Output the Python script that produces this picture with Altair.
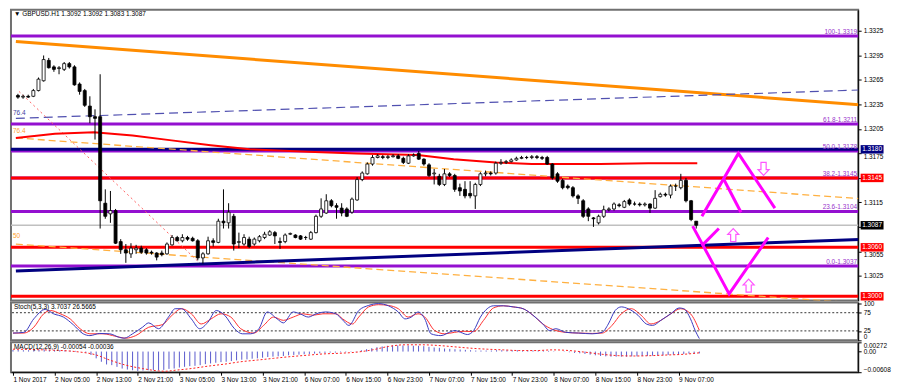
import altair as alt
import pandas as pd

# ---------------------------------------------------------------- texts
TITLE = "\u25BC GBPUSD.H1  1.3092 1.3092 1.3083 1.3087"
STOCH_TITLE = "Stoch(5,3,3) 3.7037 26.5665"
MACD_TITLE = "MACD(12,26,9) -0.00054 -0.00036"

# ---------------------------------------------------------------- candles (H1 bars, index 0 = 1 Nov 21:00)
OPEN = [1.3246, 1.3244, 1.3245, 1.3245, 1.3252, 1.3264, 1.3289, 1.3281, 1.3279, 1.3278,
        1.3285, 1.3281, 1.3260, 1.3252, 1.3233, 1.3220, 1.3220, 1.3114, 1.3101, 1.3105,
        1.3067, 1.3057, 1.3052, 1.3057, 1.3059, 1.3057, 1.3054, 1.3053, 1.3053, 1.3052,
        1.3063, 1.3072, 1.3068, 1.3072, 1.3071, 1.3068, 1.3047, 1.3052, 1.3068, 1.3066,
        1.3092, 1.3090, 1.3098, 1.3066, 1.3064, 1.3070, 1.3064, 1.3068, 1.3072, 1.3075,
        1.3078, 1.3067, 1.3067, 1.3076, 1.3075, 1.3074, 1.3072, 1.3070, 1.3078, 1.3098,
        1.3102, 1.3117, 1.3111, 1.3108, 1.3107, 1.3103, 1.3118, 1.3143, 1.3150, 1.3162,
        1.3170, 1.3171, 1.3170, 1.3171, 1.3172, 1.3169, 1.3163, 1.3172, 1.3175, 1.3168,
        1.3161, 1.3150, 1.3147, 1.3137, 1.3150, 1.3148, 1.3133, 1.3131, 1.3126, 1.3123,
        1.3137, 1.3150, 1.3151, 1.3151, 1.3163, 1.3164, 1.3165, 1.3167, 1.3169, 1.3170,
        1.3170, 1.3171, 1.3170, 1.3170, 1.3162, 1.3150, 1.3142, 1.3135, 1.3133, 1.3123,
        1.3117, 1.3107, 1.3096, 1.3090, 1.3098, 1.3106, 1.3107, 1.3112, 1.3109, 1.3118,
        1.3113, 1.3113, 1.3112, 1.3113, 1.3108, 1.3122, 1.3125, 1.3124, 1.3135, 1.3133,
        1.3142, 1.3117, 1.3092]
HIGH = [1.3248, 1.3247, 1.3247, 1.3254, 1.3268, 1.3295, 1.3292, 1.3283, 1.3282, 1.3287,
        1.3287, 1.3283, 1.3262, 1.3254, 1.3245, 1.3229, 1.3272, 1.3131, 1.3129, 1.3107,
        1.3070, 1.3064, 1.3065, 1.3063, 1.3062, 1.3059, 1.3056, 1.3054, 1.3056, 1.3066,
        1.3075, 1.3074, 1.3076, 1.3074, 1.3073, 1.3070, 1.3054, 1.3073, 1.3071, 1.3095,
        1.3131, 1.3114, 1.3101, 1.3078, 1.3076, 1.3073, 1.3072, 1.3075, 1.3079, 1.3081,
        1.3080, 1.3072, 1.3077, 1.3078, 1.3076, 1.3075, 1.3074, 1.3080, 1.3100, 1.3120,
        1.3125, 1.3119, 1.3114, 1.3114, 1.3109, 1.3121, 1.3146, 1.3153, 1.3164, 1.3173,
        1.3174, 1.3173, 1.3173, 1.3174, 1.3174, 1.3171, 1.3174, 1.3175, 1.3178, 1.3169,
        1.3163, 1.3156, 1.3150, 1.3156, 1.3152, 1.3150, 1.3138, 1.3141, 1.3141, 1.3139,
        1.3152, 1.3154, 1.3153, 1.3165, 1.3168, 1.3167, 1.3169, 1.3171, 1.3172, 1.3172,
        1.3173, 1.3173, 1.3172, 1.3172, 1.3163, 1.3152, 1.3144, 1.3137, 1.3135, 1.3125,
        1.3119, 1.3109, 1.3097, 1.3100, 1.3111, 1.3109, 1.3115, 1.3114, 1.3118, 1.3120,
        1.3116, 1.3115, 1.3115, 1.3114, 1.3130, 1.3127, 1.3127, 1.3137, 1.3138, 1.3150,
        1.3145, 1.3118, 1.3092]
LOW = [1.3242, 1.3242, 1.3243, 1.3244, 1.3251, 1.3263, 1.3279, 1.3275, 1.3272, 1.3276,
       1.3279, 1.3258, 1.3247, 1.3232, 1.3212, 1.3192, 1.3083, 1.3095, 1.3090, 1.3064,
       1.3052, 1.3041, 1.3047, 1.3052, 1.3052, 1.3051, 1.3051, 1.3044, 1.3049, 1.3051,
       1.3062, 1.3067, 1.3066, 1.3068, 1.3067, 1.3044, 1.3040, 1.3051, 1.3061, 1.3065,
       1.3083, 1.3083, 1.3056, 1.3059, 1.3062, 1.3059, 1.3062, 1.3066, 1.3070, 1.3074,
       1.3064, 1.3058, 1.3065, 1.3075, 1.3071, 1.3069, 1.3069, 1.3069, 1.3077, 1.3096,
       1.3101, 1.3109, 1.3095, 1.3098, 1.3097, 1.3101, 1.3117, 1.3141, 1.3149, 1.3160,
       1.3169, 1.3168, 1.3168, 1.3170, 1.3168, 1.3162, 1.3162, 1.3171, 1.3167, 1.3160,
       1.3146, 1.3137, 1.3135, 1.3135, 1.3146, 1.3128, 1.3123, 1.3120, 1.3120, 1.3107,
       1.3135, 1.3147, 1.3148, 1.3149, 1.3161, 1.3162, 1.3164, 1.3166, 1.3168, 1.3168,
       1.3168, 1.3168, 1.3167, 1.3161, 1.3143, 1.3139, 1.3131, 1.3131, 1.3121, 1.3113,
       1.3096, 1.3092, 1.3085, 1.3088, 1.3096, 1.3104, 1.3105, 1.3109, 1.3108, 1.3111,
       1.3111, 1.3110, 1.3110, 1.3102, 1.3107, 1.3121, 1.3122, 1.3120, 1.3129, 1.3131,
       1.3115, 1.3092, 1.3083]
CLOSE = [1.3244, 1.3245, 1.3244, 1.3252, 1.3266, 1.3290, 1.3280, 1.3278, 1.3280, 1.3285,
         1.3281, 1.3259, 1.3251, 1.3234, 1.3220, 1.3218, 1.3117, 1.3098, 1.3105, 1.3065,
         1.3057, 1.3053, 1.3059, 1.3059, 1.3054, 1.3053, 1.3053, 1.3048, 1.3051, 1.3064,
         1.3072, 1.3068, 1.3072, 1.3070, 1.3068, 1.3047, 1.3052, 1.3068, 1.3066, 1.3092,
         1.3090, 1.3103, 1.3064, 1.3067, 1.3072, 1.3061, 1.3070, 1.3073, 1.3076, 1.3079,
         1.3074, 1.3066, 1.3075, 1.3077, 1.3072, 1.3070, 1.3072, 1.3078, 1.3098, 1.3107,
         1.3117, 1.3111, 1.3109, 1.3102, 1.3098, 1.3119, 1.3143, 1.3151, 1.3162, 1.3170,
         1.3172, 1.3170, 1.3171, 1.3172, 1.3169, 1.3164, 1.3172, 1.3173, 1.3168, 1.3162,
         1.3148, 1.3151, 1.3137, 1.3150, 1.3148, 1.3131, 1.3129, 1.3123, 1.3123, 1.3137,
         1.3150, 1.3151, 1.3150, 1.3163, 1.3164, 1.3165, 1.3167, 1.3169, 1.3170, 1.3170,
         1.3171, 1.3170, 1.3169, 1.3162, 1.3145, 1.3141, 1.3133, 1.3133, 1.3123, 1.3120,
         1.3098, 1.3098, 1.3095, 1.3098, 1.3106, 1.3107, 1.3113, 1.3111, 1.3116, 1.3113,
         1.3113, 1.3112, 1.3113, 1.3108, 1.3120, 1.3125, 1.3124, 1.3135, 1.3135, 1.3142,
         1.3117, 1.3094, 1.3087]

# ---------------------------------------------------------------- time axis
TIME_TICKS = [0, 8, 16, 24, 32, 40, 48, 56, 64, 72, 80, 88, 96, 104, 112, 120, 128]
TIME_LABELS = ["1 Nov 2017", "2 Nov 05:00", "2 Nov 13:00", "2 Nov 21:00", "3 Nov 05:00",
               "3 Nov 13:00", "3 Nov 21:00", "6 Nov 07:00", "6 Nov 15:00", "6 Nov 23:00",
               "7 Nov 07:00", "7 Nov 15:00", "7 Nov 23:00", "8 Nov 07:00", "8 Nov 15:00",
               "8 Nov 23:00", "9 Nov 07:00"]

# ---------------------------------------------------------------- price levels
PRICE_TICKS = [1.3025, 1.3055, 1.3085, 1.3115, 1.3145, 1.3175, 1.3205, 1.3235, 1.3265,
               1.3295, 1.3325]
HIDDEN_TICK_LABELS = [1.3085, 1.3145]          # fully covered by price tags
LOWERED_TICK_LABELS = [1.3055, 1.3175]         # peek out just under a price tag
FIB_PRICES = [1.3319, 1.3211, 1.3178, 1.3145, 1.3104, 1.3037]
FIB_TEXT = ["100-1.3319", "61.8-1.3211", "50.0-1.3178", "38.2-1.3145", "23.6-1.3104",
            "0.0-1.3037"]
RED_LEVELS = [1.3145, 1.3060, 1.3000]
NAVY_LEVELS = [1.3180]
LAST_PRICE = [1.3087]
TAG_PRICES = [1.3180, 1.3145, 1.3087, 1.3060, 1.3000]
TAG_COLORS = ["#000080", "#FF0000", "#000000", "#FF0000", "#FF0000"]

# ---------------------------------------------------------------- drawn objects (bar, price)
ORANGE_BAR = [-0.4, 165.1]
ORANGE_PRICE = [1.3312, 1.3234]
NAVY_DASH_BAR = [-0.4, 165.1]
NAVY_DASH_PRICE = [1.3218, 1.3253]
NAVY_TREND_BAR = [-0.4, 165.1]
NAVY_TREND_PRICE = [1.3031, 1.3070]
FAN_ID = ["a", "a", "b", "b"]
FAN_BAR = [-0.4, 165.1, -0.4, 165.1]
FAN_PRICE = [1.3194, 1.3119, 1.3064, 1.2991]
RED_DOT_BAR = [0.2, 36.0]
RED_DOT_PRICE = [1.3251, 1.3037]
MA_BAR = [-0.4, 7.2, 14.8, 22.3, 29.9, 37.5, 45.1, 56.4, 65.9, 77.8, 84.8, 93.0, 100.0,
          113.3, 122.7, 132.2]
MA_PRICE = [1.3194, 1.3199, 1.3201, 1.3197, 1.3191, 1.3185, 1.3180, 1.3177, 1.3175, 1.3173,
            1.3168, 1.3164, 1.3162, 1.3162, 1.3163, 1.3163]
ZIG_ID = ["u1", "u1", "u1", "u2", "u2", "d1", "d1", "d1", "d2", "d2"]
ZIG_BAR = [133.1, 140.2, 147.3, 137.3, 140.7, 131.3, 138.4, 146.0, 133.1, 136.4]
ZIG_PRICE = [1.3098, 1.3175, 1.3108, 1.3144, 1.3103, 1.3086, 1.3003, 1.3072, 1.3062, 1.3083]
ARROW_BAR = [145.1, 139.2, 142.2]
ARROW_PRICE = [1.3156, 1.3075, 1.3013]
ARROW_DIR = ["down", "up", "up"]
FANLABEL_TEXT = ["76.4", "76.4", "50"]
FANLABEL_PRICE = [1.3224, 1.3202, 1.3074]
FANLABEL_COLOR = ["#4040A0", "#FFA030", "#FFA030"]

# ---------------------------------------------------------------- stochastic (bar, value)
STOCH_K_BAR = [0, 2.1, 4.0, 6.2, 7.8, 9.7, 11.6, 13.5, 14.8, 16.7, 18.6, 20.5, 21.4, 23.0,
               24.9, 26.1, 28.0, 29.9, 31.2, 32.4, 34.3, 35.9, 37.5, 39.1, 40.7, 42.6, 44.1,
               45.7, 47.3, 48.9, 50.8, 52.0, 53.9, 55.2, 56.8, 58.3, 60.2, 62.1, 63.4, 64.6,
               66.5, 68.4, 70.3, 72.2, 74.1, 75.4, 76.6, 77.9, 79.2, 80.4, 82.3, 84.2, 85.0,
               86.1, 87.4, 88.6, 89.9, 91.2, 92.4, 94.3, 96.2, 98.1, 100.0, 101.9, 103.2,
               104.4, 106.3, 108.8, 111.4, 113.3, 114.5, 115.8, 117.0, 118.3, 120.2, 121.8,
               123.0, 124.6, 126.5, 128.1, 129.0, 130.3, 131.2, 132.0]
STOCH_K = [19, 21, 58, 84, 72, 63, 42, 17, 12, 18, 17, 7, 5, 17,
           35, 47, 31, 63, 86, 86, 58, 31, 49, 81, 68, 31, 17,
           17, 31, 77, 58, 47, 77, 72, 63, 72, 77, 72, 55, 40,
           81, 95, 100, 94, 77, 58, 63, 77, 58, 17, 12, 23, 26,
           21, 15, 26, 63, 86, 94, 94, 91, 86, 68, 44, 26,
           31, 21, 19, 17, 21, 44, 81, 91, 86, 68, 44,
           40, 54, 72, 88, 86, 58, 26, 3.7]
STOCH_D_BAR = [0, 2.1, 4.0, 5.9, 7.2, 9.1, 11.0, 12.9, 14.8, 17.3, 19.8, 21.7, 23.6, 26.1,
               28.7, 30.6, 32.4, 34.3, 36.2, 38.1, 40.0, 41.9, 43.8, 46.3, 48.2, 50.1, 52.0,
               53.9, 55.8, 57.7, 59.6, 62.1, 63.4, 65.3, 66.5, 68.4, 70.3, 72.2, 74.1, 76.0,
               77.9, 79.2, 81.1, 83.0, 84.9, 86.7, 88.6, 90.5, 92.4, 94.3, 96.2, 98.1, 100.0,
               101.9, 103.8, 106.3, 108.8, 111.4, 113.3, 115.2, 117.0, 118.9, 120.8, 122.7,
               124.6, 126.5, 128.4, 130.3, 132.0]
STOCH_D = [19, 19, 35, 72, 81, 72, 58, 31, 17, 17, 10, 5, 12, 35,
           42, 68, 86, 72, 44, 58, 72, 63, 31, 19, 40, 63, 54,
           63, 72, 68, 72, 72, 58, 44, 63, 91, 97, 95, 86, 63,
           72, 63, 26, 17, 21, 24, 23, 54, 88, 94, 91, 86, 68,
           44, 29, 21, 19, 18, 19, 40, 72, 86, 68, 44,
           54, 72, 86, 72, 26.6]

# ---------------------------------------------------------------- MACD
MACD_HIST = [0.0005, 0.0005, 0.0004, 0.0004, 0.0005, 0.0006, 0.0006, 0.0005, 0.0005, 0.0004,
             0.0004, 0.0003, 0.0002,
             0.0, -0.0003, -0.0010, -0.0020, -0.0030, -0.0038, -0.0040, -0.0045, -0.0050,
             -0.0053, -0.0055, -0.0057,
             -0.0056, -0.0055, -0.0055, -0.0055, -0.0054, -0.0051, -0.0050, -0.0047, -0.0045,
             -0.0043, -0.0042, -0.0040,
             -0.0037, -0.0035, -0.0033, -0.0031, -0.0030, -0.0028, -0.0026, -0.0024, -0.0023,
             -0.0021, -0.0020, -0.0018,
             -0.0016, -0.0015, -0.0014, -0.0013, -0.0011, -0.0010, -0.0009, -0.0008, -0.0007,
             -0.0006, -0.0005, -0.0004,
             -0.0003, -0.0003, -0.0002, -0.0002, -0.0001, 0.0001, 0.0004, 0.0007, 0.0010,
             0.0013, 0.0015, 0.0017,
             0.0018, 0.0018, 0.0018, 0.0018, 0.0017, 0.0017, 0.0016, 0.0014, 0.0012,
             0.0011, 0.0009, 0.0008,
             0.0007, 0.0006, 0.0005, 0.0004, 0.0003, 0.0003, 0.0003, 0.0003, 0.0004,
             0.0004, 0.0004, 0.0004,
             0.0004, 0.0003, 0.0003, 0.0003, 0.0003, 0.0003, 0.0002, 0.0001, 0.0,
             -0.0001, -0.0002, -0.0004,
             -0.0005, -0.0007, -0.0009, -0.0011, -0.0013, -0.0014, -0.0015, -0.0015, -0.0015,
             -0.0015, -0.0014, -0.0014,
             -0.0013, -0.0013, -0.0012, -0.0012, -0.0011, -0.0010, -0.0009, -0.0008, -0.0007,
             -0.0006, -0.0006, -0.00054]
SIGNAL_BAR = [0, 6, 12, 16, 18.6, 21.7, 24.9, 28, 29.3, 31.2, 34.3, 37.5, 40.7, 43.8, 47,
              50.1, 53.3, 56.4, 59.6, 62.8, 65.9, 69.1, 72.2, 75.4, 78.5, 81.7, 84.9, 88,
              91.2, 94.3, 97.5, 100.6, 103.8, 107, 110.1, 113.3, 116.4, 119.6, 122.7, 125.9,
              129, 132]
SIGNAL = [0.0007, 0.0005, 0.0, -0.0010, -0.0025, -0.0040, -0.0050, -0.0057, -0.0058, -0.0055,
          -0.0050, -0.0043, -0.0037, -0.0030, -0.0025, -0.0020, -0.0015, -0.0011, -0.0007,
          -0.0005, -0.0002, 0.0005, 0.0015, 0.0020, 0.0020, 0.0018, 0.0014, 0.0010, 0.0007,
          0.0005, 0.0003, 0.0003, 0.0005, 0.0003, -0.0002, -0.0008, -0.0012, -0.0013,
          -0.0012, -0.0010, -0.0008, -0.00036]

# ================================================================ chart
FONT = "Liberation Sans"
FS = 6.5
W = 851
H_MAIN, H_STOCH, H_MACD = 292, 38, 30
PURPLE = "#9410D0"

x_scale = alt.Scale(domain=[-0.383, 162.54], nice=False, zero=False)
p_scale = alt.Scale(domain=[1.29948, 1.33509], nice=False, zero=False)
s_scale = alt.Scale(domain=[-1, 103], nice=False, zero=False)
m_scale = alt.Scale(domain=[-0.00608, 0.00272], nice=False, zero=False)


def _match(vals):
    return " || ".join(f"abs(datum.value - {v}) < 0.00001" for v in vals)


Y_AX = alt.Axis(orient="right", values=PRICE_TICKS, title="", labelFlush=False,
                labelExpr=f"({_match(HIDDEN_TICK_LABELS)}) ? '' : format(datum.value, '.4f')",
                labelBaseline={"condition": {"test": _match(LOWERED_TICK_LABELS),
                                             "value": "top"},
                               "value": "middle"})
S_AX = alt.Axis(orient="right", values=[0, 25, 75, 100], format="d", title="",
                labelFlush=True)
M_AX = alt.Axis(orient="right", values=[-0.00608, 0, 0.00272], title="", labelFlush=True,
                labelExpr="datum.value == 0 ? '0.00' : format(datum.value, '.5f')")
label_list = "[" + ",".join(f"'{s}'" for s in TIME_LABELS) + "]"
X_AX = alt.Axis(orient="bottom", values=TIME_TICKS, title="", labelAlign="left",
                labelFlush=False, labelPadding=1,
                labelExpr=f"{label_list}[round(datum.value / 8)]")


def X(field="bar"):
    return alt.X(f"{field}:Q", scale=x_scale, axis=None)


def XM(field="bar"):
    return alt.X(f"{field}:Q", scale=x_scale, axis=X_AX)


def P(field="price"):
    return alt.Y(f"{field}:Q", scale=p_scale, axis=Y_AX)


def S(field="v"):
    return alt.Y(f"{field}:Q", scale=s_scale, axis=S_AX)


def M(field="v"):
    return alt.Y(f"{field}:Q", scale=m_scale, axis=M_AX)


candles = pd.DataFrame({"bar": list(range(len(OPEN))), "open": OPEN, "high": HIGH,
                        "low": LOW, "close": CLOSE})


def seg(bars, prices, ids=None):
    d = pd.DataFrame({"bar": bars, "price": prices})
    d["id"] = ids if ids is not None else "s"
    d["k"] = range(len(d))
    return d


layers = []
# horizontal levels
layers.append(alt.Chart(pd.DataFrame({"price": LAST_PRICE})).mark_rule(
    color="#C0C0C0", strokeWidth=1.5).encode(y=P()))
layers.append(alt.Chart(pd.DataFrame({"price": FIB_PRICES})).mark_rule(
    color=PURPLE, strokeWidth=3).encode(y=P()))
layers.append(alt.Chart(pd.DataFrame({"price": NAVY_LEVELS})).mark_rule(
    color="#000080", strokeWidth=3).encode(y=P()))
layers.append(alt.Chart(pd.DataFrame({"price": RED_LEVELS})).mark_rule(
    color="#FF0000", strokeWidth=3).encode(y=P()))

# trend lines
layers.append(alt.Chart(seg(ORANGE_BAR, ORANGE_PRICE)).mark_line(
    color="#FF8C00", strokeWidth=3, clip=True).encode(x=X(), y=P(), order="k:Q"))
layers.append(alt.Chart(seg(NAVY_DASH_BAR, NAVY_DASH_PRICE)).mark_line(
    color="#5050B0", strokeWidth=1.2, strokeDash=[9, 5], clip=True).encode(
    x=X(), y=P(), order="k:Q"))
layers.append(alt.Chart(seg(FAN_BAR, FAN_PRICE, FAN_ID)).mark_line(
    color="#FFB040", strokeWidth=1.3, strokeDash=[7, 4], clip=True).encode(
    x=X(), y=P(), detail="id:N", order="k:Q"))
layers.append(alt.Chart(seg(RED_DOT_BAR, RED_DOT_PRICE)).mark_line(
    color="#FF6060", strokeWidth=1, strokeDash=[2, 3], clip=True).encode(
    x=X(), y=P(), order="k:Q"))
layers.append(alt.Chart(seg(NAVY_TREND_BAR, NAVY_TREND_PRICE)).mark_line(
    color="#000080", strokeWidth=3, clip=True).encode(x=X(), y=P(), order="k:Q"))
layers.append(alt.Chart(seg(MA_BAR, MA_PRICE)).mark_line(
    color="#FF0000", strokeWidth=2, clip=True).encode(x=X(), y=P(), order="k:Q"))

# candles
layers.append(alt.Chart(candles).mark_rule(color="black", strokeWidth=1).encode(
    x=X(), y=P("low"), y2="high:Q"))
layers.append(alt.Chart(candles).mark_bar(size=3, stroke="black", strokeWidth=0.8).encode(
    x=X(), y=P("open"), y2="close:Q",
    color=alt.condition("datum.close >= datum.open", alt.value("#FFFFFF"),
                        alt.value("#000000"))))

# magenta projections
layers.append(alt.Chart(seg(ZIG_BAR, ZIG_PRICE, ZIG_ID)).mark_line(
    color="#FF00FF", strokeWidth=3).encode(x=X(), y=P(), detail="id:N", order="k:Q"))
DOWN_PATH = "M-0.4,-1L0.4,-1L0.4,0.1L0.85,0.1L0,1L-0.85,0.1L-0.4,0.1Z"
UP_PATH = "M-0.4,1L0.4,1L0.4,-0.1L0.85,-0.1L0,-1L-0.85,-0.1L-0.4,-0.1Z"
layers.append(alt.Chart(pd.DataFrame({"bar": ARROW_BAR, "price": ARROW_PRICE,
                                      "dir": ARROW_DIR})).mark_point(
    filled=False, stroke="#FF55FF", strokeWidth=1.2, size=170, opacity=1).encode(
    x=X(), y=P(),
    shape=alt.Shape("dir:N", scale=alt.Scale(domain=["down", "up"],
                                             range=[DOWN_PATH, UP_PATH]), legend=None)))

# labels
layers.append(alt.Chart(pd.DataFrame({"price": FIB_PRICES, "t": FIB_TEXT})).mark_text(
    align="right", baseline="bottom", dy=-1, font=FONT, fontSize=FS, color="#9933CC").encode(
    x=alt.value(W - 1), y=P(), text="t:N"))
layers.append(alt.Chart(pd.DataFrame({"price": FANLABEL_PRICE, "t": FANLABEL_TEXT,
                                      "c": FANLABEL_COLOR})).mark_text(
    align="left", baseline="middle", font=FONT, fontSize=FS).encode(
    x=alt.value(2), y=P(), text="t:N", color=alt.Color("c:N", scale=None)))
layers.append(alt.Chart(pd.DataFrame({"t": [TITLE]})).mark_text(
    align="left", baseline="top", font=FONT, fontSize=FS, color="black").encode(
    x=alt.value(3), y=alt.value(1), text="t:N"))

# price tags on the right axis
tag_df = pd.DataFrame({"price": TAG_PRICES, "c": TAG_COLORS,
                       "t": [f"{p:.4f}" for p in TAG_PRICES]})
layers.append(alt.Chart(tag_df).mark_tick(orient="horizontal", thickness=8.5, size=23,
                                          opacity=1).encode(
    x=alt.value(W + 14), y=P(), color=alt.Color("c:N", scale=None)))
layers.append(alt.Chart(tag_df).mark_text(align="center", baseline="middle", font=FONT,
                                          fontSize=FS, color="white").encode(
    x=alt.value(W + 14), y=P(), text="t:N"))

main = alt.layer(*layers).properties(width=W, height=H_MAIN)

# ---------------- stochastic panel
stoch = alt.layer(
    alt.Chart(pd.DataFrame({"v": [25, 75]})).mark_rule(
        color="black", strokeWidth=0.8, strokeDash=[2, 2]).encode(y=S()),
    alt.Chart(pd.DataFrame({"bar": STOCH_D_BAR, "v": STOCH_D})).mark_line(
        color="#FF3030", strokeWidth=1, interpolate="monotone").encode(x=X(), y=S()),
    alt.Chart(pd.DataFrame({"bar": STOCH_K_BAR, "v": STOCH_K})).mark_line(
        color="#3A3AC0", strokeWidth=1, interpolate="monotone").encode(x=X(), y=S()),
    alt.Chart(pd.DataFrame({"t": [STOCH_TITLE]})).mark_text(
        align="left", baseline="top", font=FONT, fontSize=FS, color="black").encode(
        x=alt.value(3), y=alt.value(2), text="t:N"),
).properties(width=W, height=H_STOCH)

# ---------------- MACD panel
macd = alt.layer(
    alt.Chart(pd.DataFrame({"bar": list(range(len(MACD_HIST))), "v": MACD_HIST})).mark_rule(
        color="#5A5ACD", strokeWidth=1).encode(x=XM(), y=M(), y2=alt.datum(0)),
    alt.Chart(pd.DataFrame({"bar": SIGNAL_BAR, "v": SIGNAL})).mark_line(
        color="#FF2020", strokeWidth=1, strokeDash=[2, 2], interpolate="monotone").encode(
        x=XM(), y=M()),
    alt.Chart(pd.DataFrame({"t": [MACD_TITLE]})).mark_text(
        align="left", baseline="top", font=FONT, fontSize=FS, color="black").encode(
        x=alt.value(3), y=alt.value(2), text="t:N"),
).properties(width=W, height=H_MACD)

chart = alt.vconcat(main, stoch, macd, spacing=2, bounds="flush", padding=0,
                    background="white"
                    ).configure_view(stroke="#707070", strokeWidth=2
                    ).configure_axis(labelFont=FONT, labelFontSize=FS, labelColor="black",
                                     tickSize=3, tickColor="black", domainColor="black",
                                     labelPadding=2, grid=False, labelOverlap=False)

chart.save("out.html", embed_options={"renderer": "svg", "actions": False})
